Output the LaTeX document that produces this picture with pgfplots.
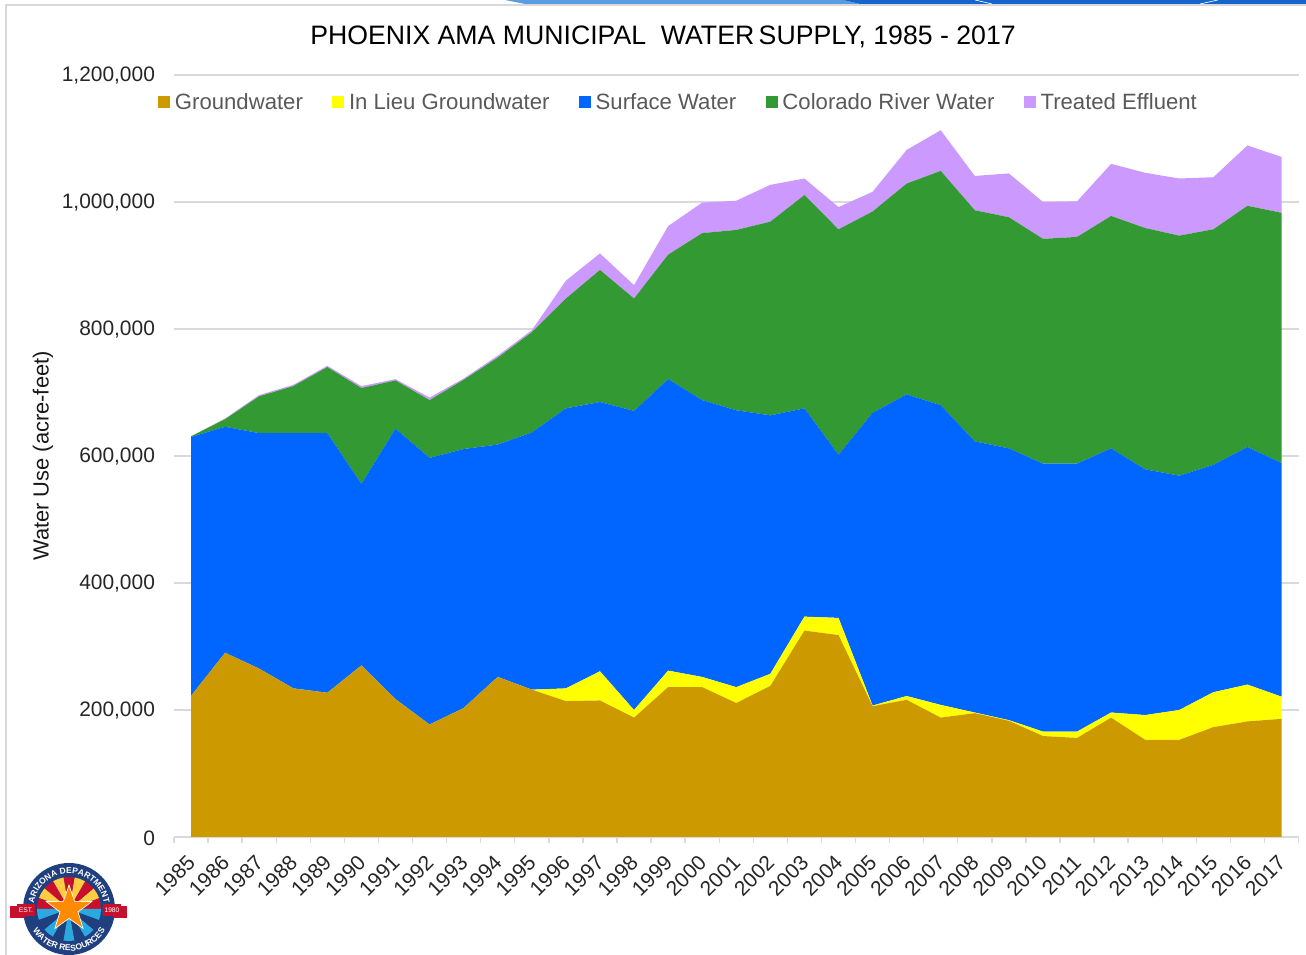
\documentclass[border=0pt]{standalone}
\usepackage{pgfplots}
\usepackage{pgfplotstable}
\usepackage{fontspec}
\setmainfont{Liberation Sans}
\pgfplotsset{compat=1.18}
\usetikzlibrary{decorations.text}
\definecolor{gw}{HTML}{CC9900}
\definecolor{li}{HTML}{FFFF00}
\definecolor{sw}{HTML}{0066FF}
\definecolor{cr}{HTML}{339933}
\definecolor{te}{HTML}{CC99FF}
\definecolor{gridc}{HTML}{D9D9D9}
\definecolor{navy}{HTML}{1F3F7F}
\definecolor{lred}{HTML}{C8102E}
\definecolor{lyel}{HTML}{FFCC44}
\definecolor{lblu}{HTML}{29A9E0}
\definecolor{bannerl}{HTML}{5B9BE0}
\definecolor{bannerd}{HTML}{1565CC}
\pgfplotstableread{
idx gw li sw cr te
0 222000 0 408000 1000 0
1 290000 0 356000 12000 1000
2 265000 0 371000 58000 2000
3 234000 0 402000 74000 2000
4 227000 0 409000 104000 2000
5 270000 0 286000 151000 3000
6 217000 0 426000 76000 2000
7 177000 0 420000 91000 4000
8 203000 0 408000 109000 2000
9 252000 0 366000 137000 3000
10 232000 0 405000 158000 3000
11 214000 20000 441000 173000 28000
12 215000 46000 424000 208000 26000
13 188000 12000 471000 177000 21000
14 236000 26000 459000 196000 45000
15 236000 16000 436000 263000 48000
16 211000 25000 436000 284000 46000
17 238000 19000 407000 305000 58000
18 325000 22000 328000 336000 26000
19 318000 27000 257000 355000 35000
20 206000 1000 461000 317000 31000
21 216000 6000 475000 332000 53000
22 188000 20000 472000 369000 64000
23 195000 1000 427000 364000 54000
24 183000 1000 428000 364000 69000
25 159000 7000 422000 354000 58000
26 156000 10000 422000 357000 56000
27 188000 8000 416000 366000 82000
28 153000 39000 387000 380000 87000
29 153000 47000 369000 378000 90000
30 173000 55000 358000 371000 82000
31 182000 58000 374000 380000 95000
32 186000 35000 368000 394000 88000
}\datatable
\begin{document}
\begin{tikzpicture}[x=0.75pt,y=0.75pt]
\path[use as bounding box] (0,0) rectangle (1306,955);
\fill[white] (0,0) rectangle (1306,955);
\draw[gridc,line width=1.5pt] (6,0) -- (6,950) -- (1306,950);
\fill[bannerl] (505,955) -- (843,955) -- (860,951) -- (525,951) -- cycle;
\fill[bannerd] (843,955) -- (1306,955) -- (1306,951) -- (860,951) -- cycle;
\draw[white,line width=0.5pt] (975,955) -- (992,951);
\draw[white,line width=0.5pt] (1200,951) -- (1218,955);
\begin{axis}[
  at={(130.5pt,88.5pt)}, anchor=south west,
  scale only axis, width=843.4pt, height=571.5pt,
  stack plots=y, area style, axis on top=false,
  xmin=-0.5, xmax=32.5, ymin=0, ymax=1200000,
  xtick={0,...,32},
  xticklabels={1985,1986,1987,1988,1989,1990,1991,1992,1993,1994,1995,1996,1997,1998,1999,2000,2001,2002,2003,2004,2005,2006,2007,2008,2009,2010,2011,2012,2013,2014,2015,2016,2017},
  major x tick style={draw=none},
  minor xtick={-0.5,0.5,...,32.5},
  minor tick length=4.5pt,
  tick align=outside,
  minor x tick style={gridc,line width=1pt},
  ytick={0,200000,...,1200000},
  major y tick style={draw=none},
  ymajorgrids, grid style={gridc,line width=1pt},
  scaled y ticks=false,
  /pgf/number format/assume math mode=true,
  yticklabel style={/pgf/number format/fixed,/pgf/number format/1000 sep={,},font=\fontsize{15.7pt}{18pt}\selectfont,text=black!85,xshift=-6.5pt,yshift=-0.7pt},
  xticklabel style={rotate=45,anchor=north east,font=\fontsize{15.7pt}{18pt}\selectfont,text=black!85,xshift=-5.15pt,yshift=0.1pt},
  axis line style={gridc,line width=1pt},
  axis x line*=bottom, axis y line*=left,
  y axis line style={draw=none},
  legend style={at={(-0.0142,0.964)},anchor=west,draw=none,fill=none,legend columns=-1,
    font=\fontsize{16.6pt}{18pt}\selectfont,text=black!65,
    /tikz/every even column/.style={column sep=20.1pt},
    /tikz/every odd column/.style={column sep=1.5pt},inner sep=0pt},
  legend cell align=left,
  legend image code/.code={\fill[#1] (0pt,-4.5pt) rectangle (9pt,4.5pt);},
]
\addplot[draw=none,fill=gw] table[x=idx,y=gw]{\datatable} \closedcycle;
\addplot[draw=none,fill=li] table[x=idx,y=li]{\datatable} \closedcycle;
\addplot[draw=none,fill=sw] table[x=idx,y=sw]{\datatable} \closedcycle;
\addplot[draw=none,fill=cr] table[x=idx,y=cr]{\datatable} \closedcycle;
\addplot[draw=none,fill=te] table[x=idx,y=te]{\datatable} \closedcycle;
\legend{Groundwater,In Lieu Groundwater,Surface Water,Colorado River Water,Treated Effluent}
\end{axis}
\node[font=\fontsize{16.4pt}{18pt}\selectfont,text=black!90,rotate=90] at (43,499) {Water Use (acre-feet)};
\node[font=\fontsize{20pt}{24pt}\selectfont,text=black] at (663,918.5) {PHOENIX AMA MUNICIPAL\ \ WATER\,SUPPLY, 1985 - 2017};
% logo
\begin{scope}[shift={(69,46)}]
  \fill[navy] (0,0) circle (46);
  \foreach \a [count=\i] in {0,20,...,160}{
    \pgfmathsetmacro\col{int(mod(\i,2))}
    \ifnum\col=1 \fill[lred] (0,0) -- (\a:32) arc (\a:\a+20:32) -- cycle;
    \else \fill[lyel] (0,0) -- (\a:32) arc (\a:\a+20:32) -- cycle; \fi
  }
  \foreach \a [count=\i] in {180,200,...,340}{
    \pgfmathsetmacro\col{int(mod(\i,2))}
    \ifnum\col=1 \fill[lblu] (0,0) -- (\a:32) arc (\a:\a+20:32) -- cycle;
    \else \fill[navy] (0,0) -- (\a:32) arc (\a:\a+20:32) -- cycle; \fi
  }
  \fill[orange!90!yellow,draw=white,line width=0.5pt] (90:24) -- (126:9.5) -- (162:24) -- (198:9.5) -- (234:24) -- (270:9.5) -- (306:24) -- (342:9.5) -- (18:24) -- (54:9.5) -- cycle;
  \fill[lred] (-59,-9) rectangle (-44,3);
  \fill[lred] (44,-9) rectangle (58,3);
  \fill[lred] (-52,-7) rectangle (-34,5);
  \fill[lred] (34,-7) rectangle (52,5);
  \node[white,font=\fontsize{5pt}{5pt}\selectfont] at (-43,-1) {EST.};
  \node[white,font=\fontsize{5pt}{5pt}\selectfont] at (43,-1) {1980};
  \path[postaction={decorate,decoration={text along path,text align=center,
    text={|\fontsize{6.4pt}{7pt}\selectfont\bfseries\color{white}|ARIZONA DEPARTMENT}}}]
    (195:35.5) arc (195:-15:35.5);
  \path[postaction={decorate,decoration={text along path,text align=center,
    text={|\fontsize{6.4pt}{7pt}\selectfont\bfseries\color{white}|WATER RESOURCES}}}]
    (190:42) arc (190:350:42);
\end{scope}
\end{tikzpicture}
\end{document}
